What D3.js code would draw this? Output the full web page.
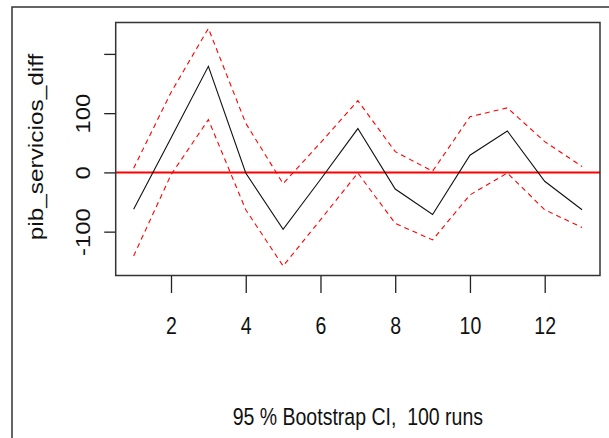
<!DOCTYPE html>
<html>
<head>
<meta charset="utf-8">
<script src="https://cdn.jsdelivr.net/npm/d3@7"></script>
<style>
  html, body { margin: 0; padding: 0; background: #fff; }
  svg { display: block; }
  text { font-family: "Liberation Sans", Arial, sans-serif; fill: #111; }
</style>
</head>
<body>
<div id="viscontainer"></div>
<script>
// data
const xs = [1, 2, 3, 4, 5, 6, 7, 8, 9, 10, 11, 12, 13];
const estimate = [-62, 58, 179, -1, -96, -12, 74, -28, -71, 29, 70, -15, -63];
const upperCI = [7, 135, 243, 83, -19, 50, 121, 35, 2, 94, 109, 52, 10];
const lowerCI = [-141, -4, 89, -63, -158, -80, -1, -86, -114, -38, -1, -63, -93];

const xTicks = [2, 4, 6, 8, 10, 12];
const yTicks = [-100, 0, 100, 200];
const yTickLabels = ["-100", "0", "100", ""];

const yLabel = "pib_servicios_diff";
const subTitle = "95 % Bootstrap CI,  100 runs";

const width = 609;
const height = 438;
const box = { left: 115.7, right: 600, top: 22.5, bottom: 275.5 };
const stretch = 1.22;   // picture is stretched vertically
const fontSize = 19.5;

const svg = d3.select("#viscontainer")
  .append("svg")
  .attr("width", width)
  .attr("height", height);

const x = d3.scaleLinear()
  .domain([0.52, 13.48])
  .range([box.left, box.right]);

const y = d3.scaleLinear()
  .domain([-174, 253])
  .range([box.bottom, box.top]);

// outer frame (only top and left edges are visible)
svg.append("path")
  .attr("d", `M12,${height} L12,7 L${width},7`)
  .attr("fill", "none")
  .attr("stroke", "#333")
  .attr("stroke-width", 1.5);

// x axis
const xAxis = svg.append("g")
  .attr("transform", `translate(0,${box.bottom})`)
  .call(d3.axisBottom(x).tickValues(xTicks).tickSize(17.5).tickSizeOuter(0));

xAxis.select(".domain").remove();
xAxis.selectAll(".tick line").attr("stroke", "#222").attr("stroke-width", 1.3);
xAxis.selectAll(".tick text")
  .attr("y", 58.5 / stretch)
  .attr("dy", 0)
  .attr("fill", "#111")
  .attr("font-size", fontSize)
  .attr("font-family", "Liberation Sans, Arial, sans-serif")
  .attr("transform", `scale(1,${stretch})`);

// y axis
const yAxis = svg.append("g")
  .attr("transform", `translate(${box.left},0)`)
  .call(d3.axisLeft(y).tickValues(yTicks).tickSize(11.5).tickSizeOuter(0)
    .tickFormat((d, i) => yTickLabels[i]));

yAxis.select(".domain").remove();
yAxis.selectAll(".tick line").attr("stroke", "#222").attr("stroke-width", 1.3);
yAxis.selectAll(".tick text")
  .attr("x", 0)
  .attr("y", 0)
  .attr("dy", 0)
  .attr("text-anchor", "middle")
  .attr("fill", "#111")
  .attr("font-size", fontSize)
  .attr("font-family", "Liberation Sans, Arial, sans-serif")
  .attr("transform", `translate(-25.7,0) rotate(-90) scale(${stretch},1)`);

// zero reference line
svg.append("line")
  .attr("x1", box.left)
  .attr("x2", box.right)
  .attr("y1", y(0))
  .attr("y2", y(0))
  .attr("stroke", "#ff0000")
  .attr("stroke-width", 2);

const line = d3.line()
  .x((d, i) => x(xs[i]))
  .y(d => y(d));

// confidence bands
[upperCI, lowerCI].forEach(band => {
  svg.append("path")
    .datum(band)
    .attr("d", line)
    .attr("fill", "none")
    .attr("stroke", "#ff0000")
    .attr("stroke-width", 1.1)
    .attr("stroke-dasharray", "5,4");
});

// estimate
svg.append("path")
  .datum(estimate)
  .attr("d", line)
  .attr("fill", "none")
  .attr("stroke", "#111")
  .attr("stroke-width", 1.1);

// plot box
svg.append("rect")
  .attr("x", box.left)
  .attr("y", box.top)
  .attr("width", box.right - box.left)
  .attr("height", box.bottom - box.top)
  .attr("fill", "none")
  .attr("stroke", "#333")
  .attr("stroke-width", 1.5);

// axis title
svg.append("text")
  .attr("text-anchor", "middle")
  .attr("font-size", 20)
  .attr("transform", `translate(42.5,147) rotate(-90) scale(${stretch},1)`)
  .text(yLabel);

// sub title (keeps the double space)
svg.append("text")
  .attr("text-anchor", "middle")
  .attr("font-size", fontSize)
  .attr("xml:space", "preserve")
  .style("white-space", "pre")
  .attr("transform", `translate(${(box.left + box.right) / 2},425) scale(1,${stretch})`)
  .text(subTitle);
</script>
</body>
</html>
